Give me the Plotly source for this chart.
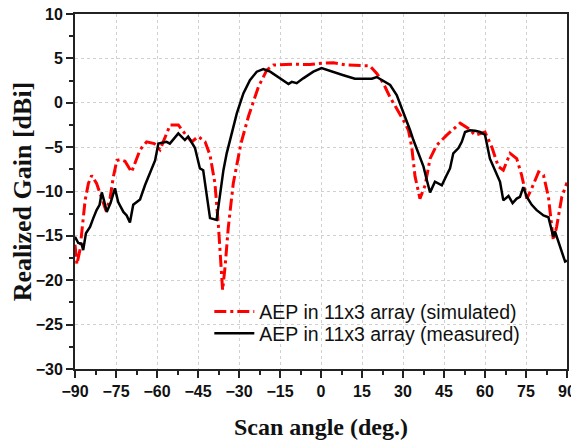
import plotly.graph_objects as go

# simulated AEP (red, dash-dot)
angle_sim = [-90, -89.3, -88.2, -87.2, -86.3, -85.1, -83.9, -82.1, -80.2, -78.6,
             -77.2, -76, -74.7, -73.5, -71.7, -69.3, -66.2, -63.8, -61, -58.9,
             -55.2, -52.2, -50, -47.3, -44.9, -42.4, -40.6, -38.8, -37.5, -36.3,
             -36, -35.1, -33.9, -32.1, -29.3, -26.5, -24.5, -22.9, -19.8, -17.4,
             -10.1, -4, 0.2, 4.5, 9.4, 14.3, 17.9, 20.4, 22.8, 25.3,
             28.9, 30.2, 32, 33.2, 34.4, 36.2, 38.1, 39.9, 42.3, 46,
             50.9, 53.9, 56.4, 60, 62.5, 64.9, 66.7, 69.2, 71.6, 73.4,
             75.3, 77.1, 79.6, 81.4, 83.2, 85, 86.2, 88.1, 90]
gain_sim = [-16, -18.2, -16.6, -14, -11, -9.1, -8.2, -9.1, -10.8, -12.2,
            -10.8, -8.4, -6.5, -6.4, -6.6, -7.8, -5.3, -4.4, -4.6, -5.3,
            -2.5, -2.5, -3.4, -4.4, -3.8, -4.4, -5.9, -9.1, -14, -19.6,
            -21.1, -18.5, -14, -9.1, -4.6, -1.5, 0.2, 1.8, 3.7, 4.25,
            4.35, 4.3, 4.45, 4.5, 4.25, 4.15, 4.15, 3.3, 2.2, 0.6,
            -1.2, -2.0, -3.1, -5.0, -8.3, -10.8, -9.3, -6.3, -4.8, -3.65,
            -2.3, -2.9, -3.65, -3.3, -5, -7.2, -7.6, -5.7, -6.3, -8.15,
            -10.8, -9.65, -7.8, -8.15, -10.6, -15.5, -14, -10.6, -9.0]

# measured AEP (black, solid)
angle_meas = [-90, -88.8, -87.6, -87, -86, -84.5, -83.3, -82.1, -81, -80.2,
              -79.4, -78.4, -77, -75.4, -74.2, -72.3, -71.1, -69.9, -68.7, -66.2,
              -64.4, -62.6, -60.7, -59.5, -56.5, -55.3, -52.2, -49.8, -48.6, -46.1,
              -44.3, -43.1, -40.6, -38.2, -37, -35.7, -34.5, -33.3, -31.5, -30.8,
              -28.4, -26, -23.5, -21.1, -18.6, -15, -11.9, -10.7, -8.9, -6.5,
              -2.8, 0.2, 2.1, 4.5, 8.2, 12.4, 15.5, 18.6, 20.4, 22.2,
              25.3, 27.7, 30.1, 32.6, 33.8, 35.6, 37.5, 38.7, 39.9, 41.7,
              43, 44.2, 46, 47.2, 48.4, 50.3, 51.5, 52.7, 54.5, 56.4,
              58.2, 60, 61.8, 63.7, 65.5, 66.7, 68.6, 70.1, 71.6, 72.8,
              74, 75.3, 77.1, 78.9, 81.4, 83.2, 84.4, 85, 85.6, 87.5,
              89.3, 90]
gain_meas = [-15.1, -15.8, -15.9, -16.6, -14.7, -14, -13, -12.1, -11.5, -10.1,
             -11, -12.3, -11.3, -9.65, -11.2, -12.3, -12.7, -13.5, -11.5, -10.9,
             -9.3, -8, -6.5, -4.6, -4.4, -4.6, -3.45, -4.2, -3.8, -5.1,
             -7.4, -7.6, -13.0, -13.2, -10.6, -7.6, -5.7, -4.2, -2.0, -1.2,
             1.05, 2.55, 3.5, 3.8, 3.5, 2.75, 2.1, 2.35, 2.2, 2.75,
             3.5, 3.9, 3.7, 3.4, 3.1, 2.7, 2.7, 2.7, 2.9, 2.55,
             2.0, 0.87, -1.0, -3.1, -4.2, -5.7, -7.2, -8.7, -10.1, -8.9,
             -9.1, -9.3, -8.15, -7.4, -5.7, -5.1, -4.4, -3.3, -3.1, -3.15,
             -3.3, -3.6, -6.3, -7.6, -8.9, -11, -10.5, -11.3, -10.8, -10.6,
             -9.5, -10.6, -11.5, -12.1, -12.7, -12.9, -14.2, -15.1, -14.5, -16.2,
             -17.9, -17.8]

fig = go.Figure()
fig.add_trace(go.Scatter(x=angle_sim, y=gain_sim, mode='lines',
                         name='AEP in 11x3 array (simulated)', legend='legend',
                         line=dict(color='#ff0000', width=3, dash='12px,4px,3px,4px')))
fig.add_trace(go.Scatter(x=angle_meas, y=gain_meas, mode='lines',
                         name='AEP in 11x3 array (measured)', legend='legend2',
                         line=dict(color='#000000', width=2.5)))

tick_font = dict(family='Liberation Sans, Arial', size=16, color='#111111', weight='bold')
xtitle_font = dict(family='Liberation Serif, Times New Roman', size=24, color='#111111', weight='bold')
ytitle_font = dict(family='Liberation Serif, Times New Roman', size=26, color='#111111', weight='bold')
legend_font = dict(family='Liberation Sans, Arial', size=19.5, color='#111111')

axis_common = dict(showline=True, linewidth=2, linecolor='#222222', mirror=True,
                   ticks='outside', ticklen=7, tickwidth=2, tickcolor='#222222',
                   showgrid=True, gridcolor='#d0d0d0', griddash='dot', gridwidth=1,
                   zeroline=False, tickfont=tick_font, automargin=False,
                   ticklabeloverflow='allow')

fig.update_xaxes(range=[-90, 90], tick0=-90, dtick=15,
                 minor=dict(ticks='outside', ticklen=4, tickwidth=1.5, dtick=7.5,
                            tickcolor='#222222', showgrid=False),
                 title=dict(text='Scan angle (deg.)', font=xtitle_font, standoff=19),
                 **axis_common)
fig.update_yaxes(range=[-30, 10], tick0=-30, dtick=5,
                 minor=dict(ticks='outside', ticklen=4, tickwidth=1.5, dtick=2.5,
                            tickcolor='#222222', showgrid=False),
                 title=dict(text='Realized Gain [dBi]', font=ytitle_font, standoff=5),
                 **axis_common)

# page body adds an 8px offset, so the figure is drawn 8px smaller
fig.update_layout(width=571, height=434,
                  margin=dict(l=67, r=12, t=6, b=73),
                  plot_bgcolor='white', paper_bgcolor='white',
                  legend=dict(x=0.273, y=0.161, xanchor='left', yanchor='middle',
                              bgcolor='rgba(0,0,0,0)', itemwidth=40, font=legend_font),
                  legend2=dict(x=0.273, y=0.1, xanchor='left', yanchor='middle',
                               bgcolor='rgba(0,0,0,0)', itemwidth=40, font=legend_font),
                  showlegend=True)

fig.write_html("out.html")
